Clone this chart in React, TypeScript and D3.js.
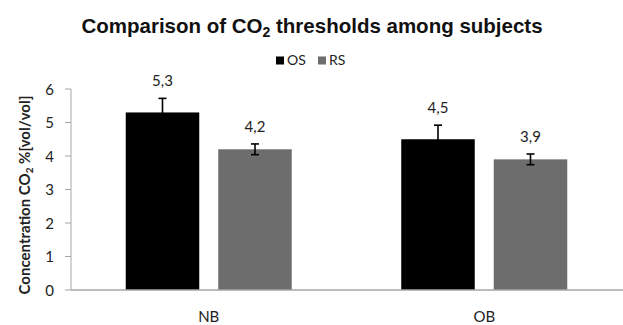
import React from "react";
import * as d3 from "d3";

const categories = ["NB", "OB"];
const seriesNames = ["OS", "RS"];
const osValues = [5.3, 4.5];
const rsValues = [4.2, 3.9];
const osErrors = [0.42, 0.42];
const rsErrors = [0.16, 0.16];
const valueLabels = [["5,3", "4,2"], ["4,5", "3,9"]];
const yTicks = [0, 1, 2, 3, 4, 5, 6];
const colors = ["#000000", "#6d6d6d"];

const W = 623;
const H = 325;
const M = { left: 71, right: 1, top: 89, bottom: 35 };

export default function App() {
  const x = d3.scaleBand().domain(categories).range([M.left, W - M.right]).paddingInner(0).paddingOuter(0);
  const y = d3.scaleLinear().domain([0, 6]).range([H - M.bottom, M.top]);
  const barW = 73.5;
  const gap = 19;
  const values = [osValues, rsValues];
  const errors = [osErrors, rsErrors];
  const font = "Lato, 'Open Sans', sans-serif";

  return (
    <svg width={W} height={H} style={{ position: "absolute", left: 0, top: 0, background: "#fff" }}>
      <text x={312} y={33} textAnchor="middle" fontFamily="'Liberation Sans', Arial, sans-serif" fontWeight="bold" fontSize={20.5} fill="#111">
        Comparison of CO<tspan fontSize={14} dy={4}>2</tspan><tspan dy={-4}> thresholds among subjects</tspan>
      </text>
      {seriesNames.map((s, i) => (
        <g key={s} transform={`translate(${276 + i * 42},0)`}>
          <rect x={0} y={56.5} width={8} height={8} fill={colors[i]} />
          <text x={11} y={65} fontFamily={font} fontSize={14} fill="#222">{s}</text>
        </g>
      ))}
      {yTicks.map((t) => (
        <g key={t}>
          <line x1={M.left - 6} x2={M.left} y1={y(t)} y2={y(t)} stroke="#a6a6a6" strokeWidth={1} />
          <text x={M.left - 17} y={y(t) + 5.5} textAnchor="end" fontFamily={font} fontSize={15} fill="#222">{t}</text>
        </g>
      ))}
      {categories.map((c, ci) => {
        const cx = x(c)! + x.bandwidth() / 2;
        return (
          <g key={c}>
            {values.map((vals, si) => {
              const bx = cx - gap / 2 - barW + si * (barW + gap);
              const v = vals[ci];
              const e = errors[si][ci];
              const mid = bx + barW / 2;
              return (
                <g key={si}>
                  <rect x={bx} y={y(v)} width={barW} height={y(0) - y(v)} fill={colors[si]} />
                  <line x1={mid} x2={mid} y1={y(v - e)} y2={y(v + e)} stroke="#000" strokeWidth={1.6} />
                  <line x1={mid - 4} x2={mid + 4} y1={y(v + e)} y2={y(v + e)} stroke="#000" strokeWidth={1.6} />
                  <line x1={mid - 4} x2={mid + 4} y1={y(v - e)} y2={y(v - e)} stroke="#000" strokeWidth={1.6} />
                  <text x={mid} y={y(v + e) - 12} textAnchor="middle" fontFamily={font} fontSize={15} fill="#222">
                    {valueLabels[ci][si]}
                  </text>
                </g>
              );
            })}
            <text x={cx} y={322} textAnchor="middle" fontFamily={font} fontSize={15} fill="#222">{c}</text>
          </g>
        );
      })}
      <line x1={M.left} x2={M.left} y1={y(6)} y2={y(0)} stroke="#a6a6a6" strokeWidth={1} />
      <line x1={M.left} x2={W} y1={y(0)} y2={y(0)} stroke="#a6a6a6" strokeWidth={1.5} />
      <text transform={`translate(30,${195}) rotate(-90)`} textAnchor="middle" fontFamily={font} fontWeight="bold" fontSize={15} fill="#222">
        Concentration CO<tspan fontSize={10} dy={3}>2</tspan><tspan dy={-3}> %[vol/vol]</tspan>
      </text>
    </svg>
  );
}
